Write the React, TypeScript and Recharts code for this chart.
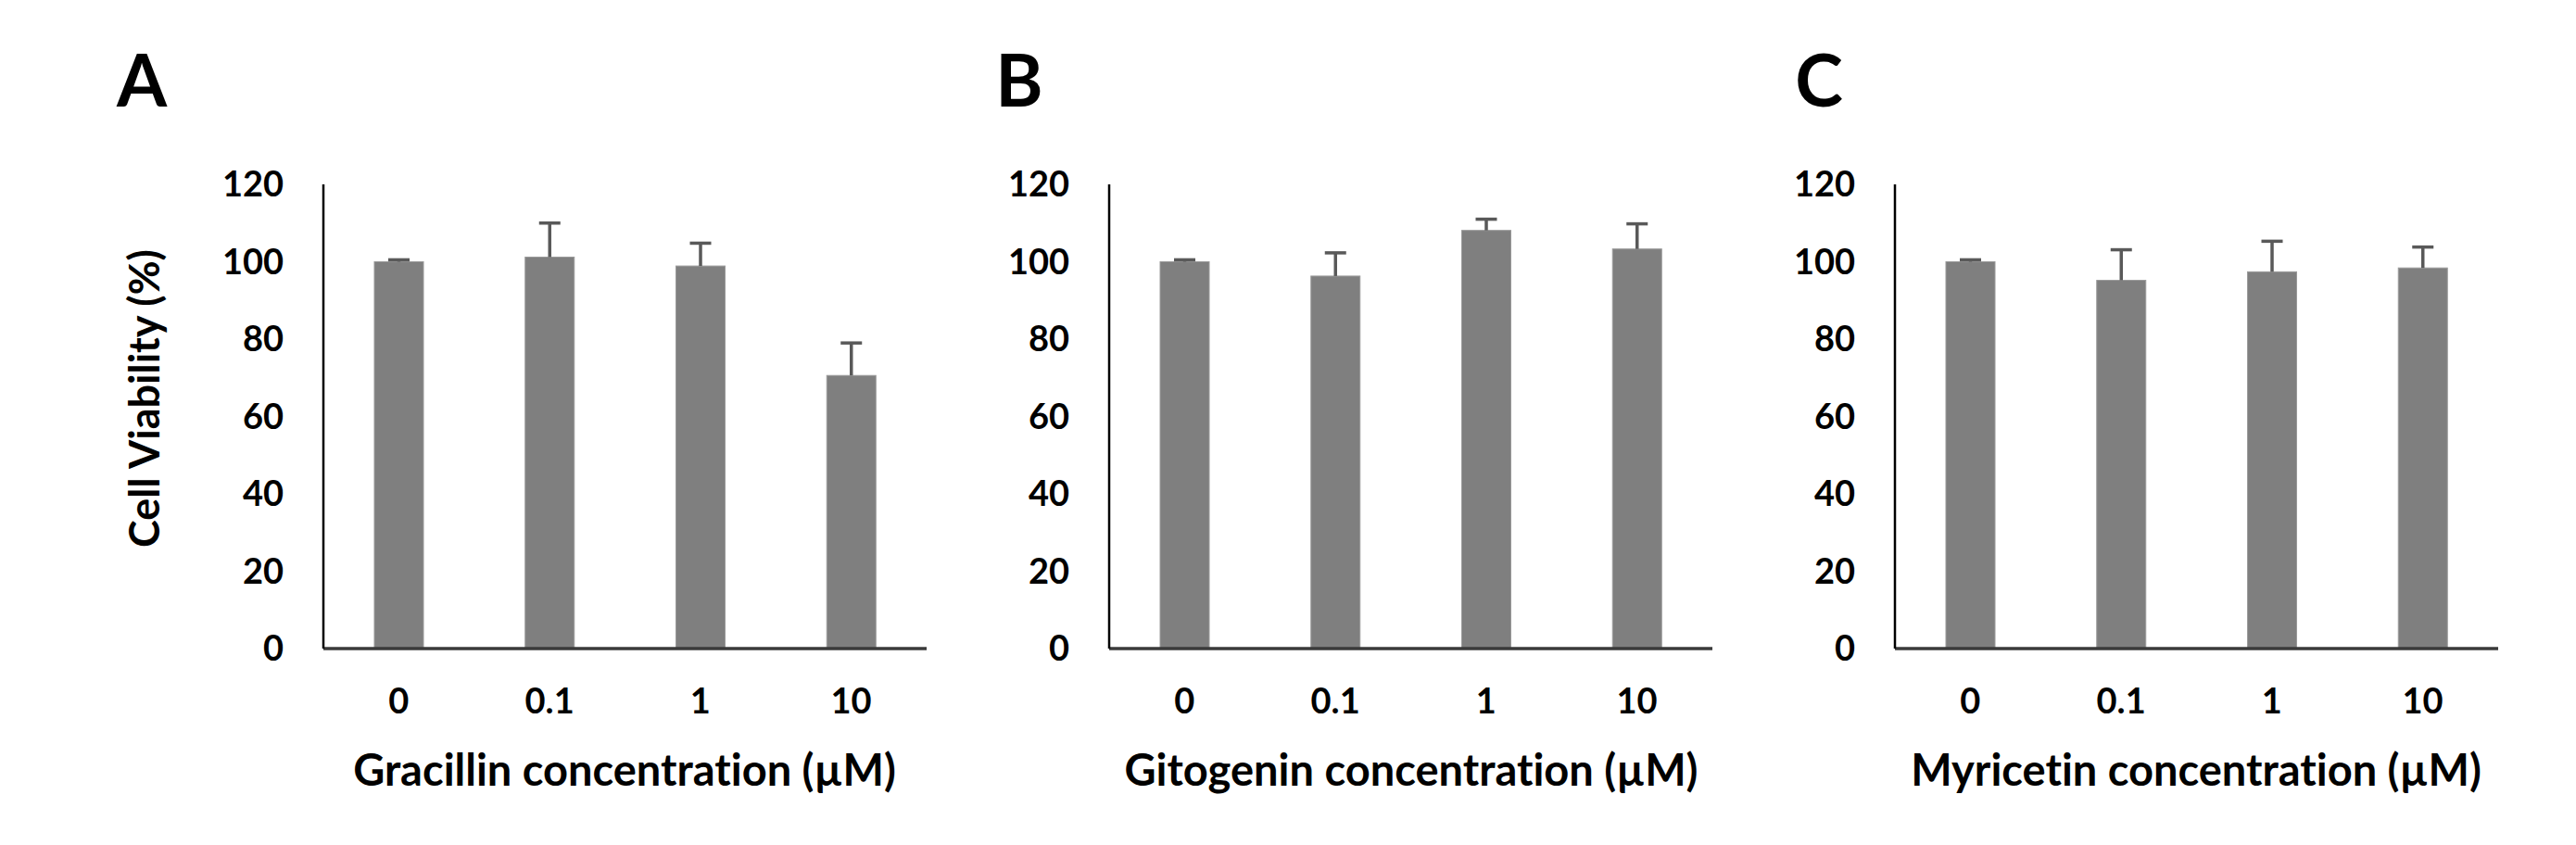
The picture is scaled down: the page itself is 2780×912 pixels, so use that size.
import React from "react";
import { Bar, BarChart, XAxis, YAxis } from "recharts";

const concentrations = ["0", "0.1", "1", "10"];
const yTicks = [0, 20, 40, 60, 80, 100, 120];

const gracillinMean = [100, 101.2, 98.9, 70.6];
const gracillinSd = [0.5, 8.8, 5.9, 8.4];
const gitogeninMean = [100, 96.3, 108.1, 103.3];
const gitogeninSd = [0.5, 6.0, 2.9, 6.5];
const myricetinMean = [100, 95.2, 97.4, 98.4];
const myricetinSd = [0.5, 7.9, 7.9, 5.4];

const FONT = "Lato, 'Open Sans', sans-serif";
const AXIS_W = 200;
const PLOT_W = 651;
const PLOT_TOP = 199;
const PLOT_BOTTOM = 700;
const HEIGHT = 912;
const CAP_HALF = 11.5;

const tickStyle = { fontSize: 38, fontFamily: FONT, fontWeight: 700, fill: "#000" };

function buildRows(means: number[], sds: number[]) {
  return concentrations.map((c, i) => ({ conc: c, mean: means[i], sd: sds[i] }));
}

// bar plus upper-only error whisker (Excel style, no lower cap)
function BarWithError(props: any) {
  const { x, y, width, height, payload, fill } = props;
  const perUnit = payload.mean ? height / payload.mean : 0;
  const top = y - payload.sd * perUnit;
  const cx = x + width / 2;
  return (
    <g>
      <rect x={x} y={y} width={width} height={height} fill={fill} stroke="#9a9a9a" strokeWidth={1} />
      <line x1={cx} x2={cx} y1={y} y2={top} stroke="#595959" strokeWidth={3.5} />
      <line x1={cx - CAP_HALF} x2={cx + CAP_HALF} y1={top} y2={top} stroke="#595959" strokeWidth={3.5} />
    </g>
  );
}

function Panel({ axisX, means, sds }: { axisX: number; means: number[]; sds: number[] }) {
  const data = buildRows(means, sds);
  return (
    <div style={{ position: "absolute", left: axisX - AXIS_W, top: 0 }}>
      <BarChart
        width={AXIS_W + PLOT_W + 20}
        height={HEIGHT}
        data={data}
        margin={{ top: PLOT_TOP, right: 20, left: 0, bottom: 0 }}
        barSize={53}
      >
        <XAxis
          dataKey="conc"
          height={HEIGHT - PLOT_BOTTOM}
          tickLine={false}
          axisLine={{ stroke: "#3a3a3a", strokeWidth: 3.5 }}
          tick={tickStyle}
          tickMargin={37}
        />
        <YAxis
          width={AXIS_W}
          domain={[0, 120]}
          ticks={yTicks}
          interval={0}
          tickLine={false}
          axisLine={{ stroke: "#000", strokeWidth: 2.5 }}
          tick={tickStyle}
          tickMargin={37}
        />
        <Bar dataKey="mean" fill="#7f7f7f" shape={BarWithError} isAnimationActive={false} />
      </BarChart>
    </div>
  );
}

function Title({ x, y, size, children, rotate }: { x: number; y: number; size: number; children: React.ReactNode; rotate?: boolean }) {
  return (
    <div
      style={{
        position: "absolute",
        left: x,
        top: y,
        transform: `translate(-50%, -50%)${rotate ? " rotate(-90deg)" : ""}`,
        fontFamily: FONT,
        fontWeight: 700,
        fontSize: size,
        lineHeight: 1,
        whiteSpace: "nowrap",
        fontVariantLigatures: "none",
        fontFeatureSettings: '"liga" 0, "clig" 0',
        color: "#000",
      }}
    >
      {children}
    </div>
  );
}

export default function App() {
  return (
    <div style={{ position: "absolute", left: 0, top: 0, width: 2780, height: 912, background: "#fff" }}>
      <Panel axisX={349} means={gracillinMean} sds={gracillinSd} />
      <Panel axisX={1197} means={gitogeninMean} sds={gitogeninSd} />
      <Panel axisX={2045} means={myricetinMean} sds={myricetinSd} />

      <Title x={153} y={85} size={78}>A</Title>
      <Title x={1100} y={85} size={78}>B</Title>
      <Title x={1963} y={85} size={78}>C</Title>

      <Title x={155} y={430} size={45} rotate>Cell Viability (%)</Title>

      <Title x={674} y={830} size={47}>Gracillin concentration (µM)</Title>
      <Title x={1523} y={830} size={47}>Gitogenin concentration (µM)</Title>
      <Title x={2370} y={830} size={47}>Myricetin concentration (µM)</Title>
    </div>
  );
}
